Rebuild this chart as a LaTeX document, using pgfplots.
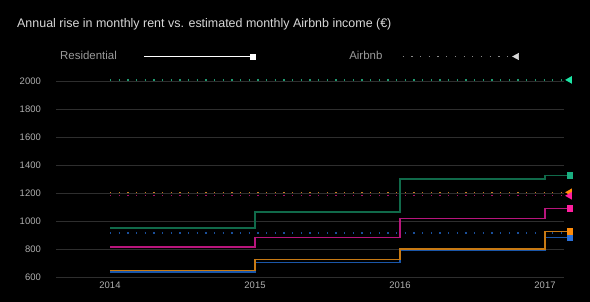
\documentclass[border=0pt]{standalone}
\usepackage{pgfplots}
\pgfplotsset{compat=1.18}
\usepackage{fontspec}
\setmainfont{Liberation Sans}
\definecolor{gridc}{HTML}{2E2E2E}
\definecolor{tickc}{HTML}{B0B0B0}
\definecolor{legc}{HTML}{9A9A9A}
\definecolor{legdot}{HTML}{8A8A8A}
\definecolor{titlec}{HTML}{D8D8D8}
\definecolor{resgreen}{HTML}{106A4A}
\definecolor{resgreenm}{HTML}{1AAE80}
\definecolor{airgreen}{HTML}{1E9A70}
\definecolor{airgreenm}{HTML}{1DE5A5}
\definecolor{respink}{HTML}{B8157C}
\definecolor{pinkm}{HTML}{FF1E9E}
\definecolor{airpink}{HTML}{A8106A}
\definecolor{resorange}{HTML}{C87A14}
\definecolor{orangem}{HTML}{FF8C0A}
\definecolor{airorange}{HTML}{C8801E}
\definecolor{resblue}{HTML}{1A56A8}
\definecolor{bluem}{HTML}{2A70D8}
\definecolor{airblue}{HTML}{1A4F9A}
\begin{document}
\begin{tikzpicture}
\fill[black] (-56bp,-25bp) rectangle (534bp,277bp);
\begin{axis}[
  at={(0,0)}, anchor=south west,
  scale only axis, width=508bp, height=196bp,
  xmin=2013.6276, xmax=2017.131, ymin=600, ymax=2000,
  clip=false,
  axis line style={draw=none}, major tick length=0pt,
  ytick={600,800,...,2000}, xtick={2014,2015,2016,2017},
  ymajorgrids, grid style={color=gridc, line width=0.9bp},
  /pgf/number format/1000 sep={},
  /pgf/number format/assume math mode=true,
  tick label style={font=\fontsize{9.5}{11}\selectfont, text=tickc, inner sep=0pt},
  yticklabel style={anchor=east, xshift=-15bp},
  xticklabel style={anchor=north, yshift=-5bp},
  title={Annual rise in monthly rent vs. estimated monthly Airbnb income (€)},
  title style={at={(axis description cs:-0.0768,1.2449)}, anchor=base west, inner sep=0pt, font=\fontsize{12.5}{15}\selectfont, text=titlec},
  legend plot pos=right,
  legend columns=2,
  legend style={at={(axis description cs:0.0079,1.1250)}, anchor=west, draw=none, fill=none, inner sep=0pt, row sep=0pt, column sep=0pt,
    nodes={inner sep=0pt, text=legc, font=\fontsize{11.5}{13}\selectfont}},
]
\addlegendimage{legend image code/.code={
  \path (0bp,0bp) -- (232bp,0bp);
  \draw[white, line width=1bp] (27bp,0bp) -- (134bp,0bp);
  \fill[white] (133.5bp,-2.5bp) rectangle (138.5bp,2.5bp);}}
\addlegendentry{Residential}
\addlegendimage{legend image code/.code={
  \path (0bp,0bp) -- (136bp,0bp);
  \draw[legdot, line width=1.2bp, dash pattern=on 1.2bp off 7.5bp] (20bp,0bp) -- (127bp,0bp);
  \fill[white!85!black] (130bp,0bp) -- (136bp,3.2bp) -- (136bp,-3.2bp) -- cycle;}}
\addlegendentry{Airbnb}
% Airbnb (dotted)
\addplot[forget plot, airgreen, line width=1.3bp, dash pattern=on 1.3bp off 7.37bp, mark=triangle*, mark indices={2}, mark size=3.2bp, mark options={solid, rotate=90, fill=airgreenm, draw=airgreenm}] coordinates {(2014,2008) (2017.17,2008)};
\addplot[forget plot, airorange, line width=1.3bp, dash pattern=on 1.3bp off 7.37bp, mark=triangle*, mark indices={2}, mark size=3.2bp, mark options={solid, rotate=90, fill=orangem, draw=orangem}] coordinates {(2014,1205) (2017.17,1205)};
\addplot[forget plot, airpink, line width=1.3bp, dash pattern=on 1.3bp off 7.37bp, mark=triangle*, mark indices={2}, mark size=3.2bp, mark options={solid, rotate=90, fill=pinkm, draw=pinkm}] coordinates {(2014,1180) (2017.17,1180)};
\addplot[forget plot, airblue, line width=1.3bp, dash pattern=on 1.3bp off 7.37bp] coordinates {(2014,915) (2017.17,915)};
% Residential (steps)
\addplot[forget plot, const plot, resgreen, line width=1.3bp, mark=square*, mark indices={5}, mark size=2.5bp, mark options={fill=resgreenm, draw=resgreenm}] coordinates {(2014,950) (2015,1065) (2016,1300) (2017,1325) (2017.17,1325)};
\addplot[forget plot, const plot, respink, line width=1.3bp, mark=square*, mark indices={5}, mark size=2.5bp, mark options={fill=pinkm, draw=pinkm}] coordinates {(2014,815) (2015,880) (2016,1020) (2017,1090) (2017.17,1090)};
\addplot[forget plot, const plot, resblue, line width=1.3bp, mark=square*, mark indices={5}, mark size=2.5bp, mark options={fill=bluem, draw=bluem}] coordinates {(2014,635) (2015,705) (2016,790) (2017,880) (2017.17,880)};
\addplot[forget plot, const plot, resorange, line width=1.3bp, mark=square*, mark indices={5}, mark size=2.5bp, mark options={fill=orangem, draw=orangem}] coordinates {(2014,645) (2015,725) (2016,800) (2017,925) (2017.17,925)};
\end{axis}
\pgfresetboundingbox
\useasboundingbox (-56bp,-25bp) rectangle (534bp,277bp);
\end{tikzpicture}
\end{document}
